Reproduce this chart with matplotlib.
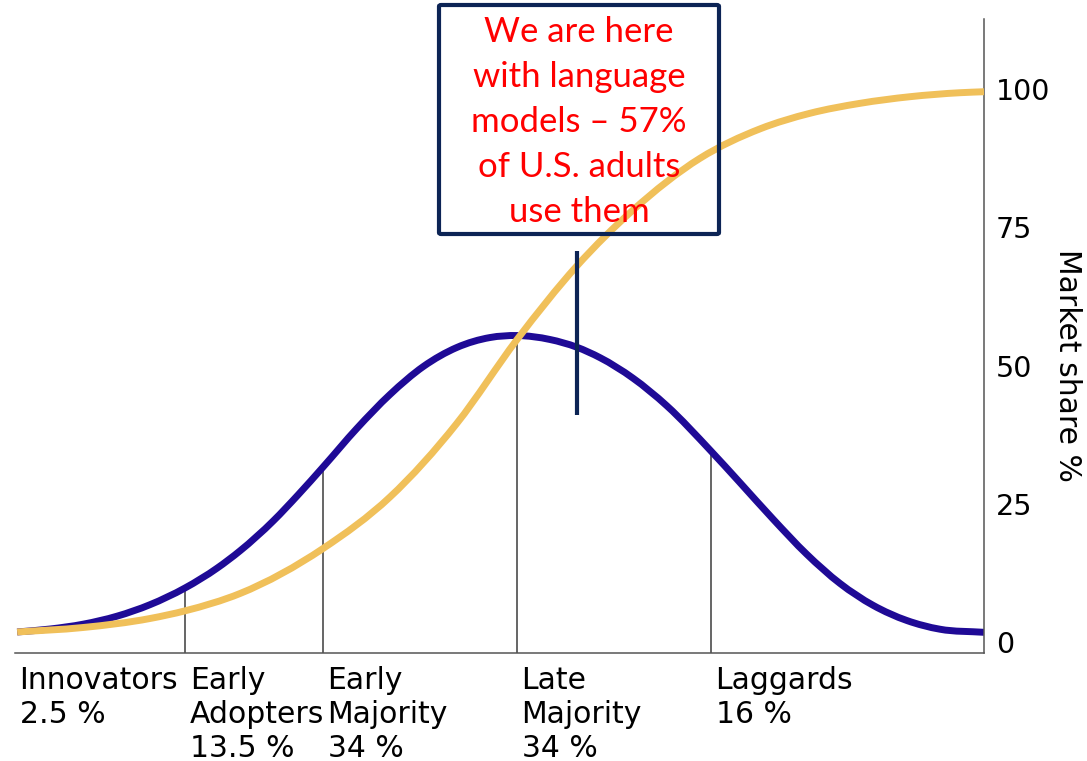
import numpy as np
import matplotlib
matplotlib.use("Agg")
import matplotlib.pyplot as plt
from matplotlib.patches import FancyBboxPatch, PathPatch
from matplotlib.path import Path
import matplotlib.transforms as mtransforms

# ---- data (x in standard deviations from the mean, y in market share %) ----
bell_x = [-2.577, -2.407, -2.237, -2.062, -1.892, -1.711, -1.546, -1.428, -1.256,
          -1.129, -0.998, -0.826, -0.655, -0.483, -0.311, -0.139, 0.0, 0.170,
          0.308, 0.428, 0.598, 0.772, 0.998, 1.149, 1.320, 1.493, 1.665, 1.835,
          2.009, 2.180, 2.407]
bell_y = [1.81, 2.35, 3.22, 4.67, 6.75, 9.78, 13.36, 16.49, 21.92,
          26.60, 31.72, 38.61, 44.76, 49.82, 53.25, 55.06, 55.42, 54.70,
          53.31, 51.41, 47.70, 42.71, 34.59, 28.82, 22.21, 15.88, 10.58, 6.64,
          3.89, 2.31, 1.75]

share_x = [-2.577, -2.237, -1.892, -1.711, -1.428, -1.000, -0.655, -0.311, 0.0,
           0.308, 0.598, 0.943, 1.253, 1.510, 1.768, 2.026, 2.284, 2.407]
share_y = [1.81, 2.62, 4.25, 5.64, 8.77, 16.91, 26.22, 39.51, 54.70,
           67.99, 78.12, 87.47, 92.80, 95.61, 97.41, 98.61, 99.33, 99.51]

boundaries = [-1.711, -1.0, 0.0, 1.0]
segment_starts = [-2.588, -1.711, -1.0, 0.0, 1.0]
categories = ["Innovators\n2.5 %", "Early\nAdopters\n13.5 %", "Early\nMajority\n34 %",
              "Late\nMajority\n34 %", "Laggards\n16 %"]
yticks = [0, 25, 50, 75, 100]
ylabel = "Market share %"

marker_x = 0.309
marker_y = [41.0, 70.7]

note_lines = ["We are here", "with language", "models \u2013 57%", "of U.S. adults", "use them"]


def smooth_path(xs, ys):
    """Cubic Hermite Bezier path passing through every data point."""
    x = np.asarray(xs, float)
    y = np.asarray(ys, float)
    h = np.diff(x)
    d = np.diff(y) / h
    m = np.empty_like(y)
    m[0], m[-1] = d[0], d[-1]
    for i in range(1, len(x) - 1):
        m[i] = (d[i - 1] * h[i] + d[i] * h[i - 1]) / (h[i - 1] + h[i])
    verts = [(x[0], y[0])]
    codes = [Path.MOVETO]
    for i in range(len(x) - 1):
        verts += [(x[i] + h[i] / 3, y[i] + m[i] * h[i] / 3),
                  (x[i + 1] - h[i] / 3, y[i + 1] - m[i + 1] * h[i] / 3),
                  (x[i + 1], y[i + 1])]
        codes += [Path.CURVE4] * 3
    return Path(verts, codes)


# ---- figure ----
W, H = 1087, 761
fig = plt.figure(figsize=(W / 100, H / 100), dpi=100)
ax = fig.add_axes([15 / W, (H - 653) / H, (984 - 15) / W, (653 - 19) / H])
ax.set_xlim(-2.588, 2.407)
ax.set_ylim(-1.99, 112.66)

blue = "#1f0a96"
gold = "#f0c05a"
navy = "#0c2455"

# boundary lines up to the bell curve
for b in boundaries:
    top = np.interp(b, bell_x, bell_y)
    ax.plot([b, b], [ax.get_ylim()[0], top], color="#3c3c3c", lw=1.1, zorder=1,
            solid_capstyle="butt")

ax.add_patch(PathPatch(smooth_path(bell_x, bell_y), fill=False, edgecolor=blue,
                       lw=5, zorder=2, capstyle="butt"))
ax.add_patch(PathPatch(smooth_path(share_x, share_y), fill=False, edgecolor=gold,
                       lw=5, zorder=3, capstyle="butt"))
ax.plot([marker_x, marker_x], marker_y, color=navy, lw=3, zorder=4, solid_capstyle="butt")

# spines
for s in ["top", "left"]:
    ax.spines[s].set_visible(False)
for s in ["bottom", "right"]:
    ax.spines[s].set_color("#555555")
    ax.spines[s].set_linewidth(1.1)

ax.set_xticks([])
ax.yaxis.tick_right()
ax.set_yticks(yticks)
ax.tick_params(axis="y", length=0, pad=8.5, labelsize=20.5, colors="black")

ax.text(1.0857, 50, ylabel, rotation=270, ha="center", va="center", fontsize=21.5,
        transform=mtransforms.blended_transform_factory(ax.transAxes, ax.transData))

# category labels
trans = mtransforms.blended_transform_factory(ax.transData, fig.transFigure)
off = mtransforms.offset_copy(trans, fig=fig, x=4.5, y=0, units="dots")
for sx, lab in zip(segment_starts, categories):
    ax.text(sx, (H - 666) / H, lab, transform=off, ha="left", va="top",
            fontsize=21.5, color="black", linespacing=1.22, clip_on=False)

# annotation box
box = FancyBboxPatch((439 / W, (H - 234) / H), 280 / W, 229 / H,
                     boxstyle="round,pad=0,rounding_size=0.002",
                     transform=fig.transFigure, fill=False, edgecolor=navy,
                     linewidth=3, zorder=5)
fig.patches.append(box)
for i, line in enumerate(note_lines):
    fig.text(579 / W, (H - (42 + 45 * i)) / H, line, ha="center", va="baseline",
             fontsize=25, color="#ff0000", family=["Lato", "DejaVu Sans"], zorder=6)

fig.savefig("out.png", dpi=100)
